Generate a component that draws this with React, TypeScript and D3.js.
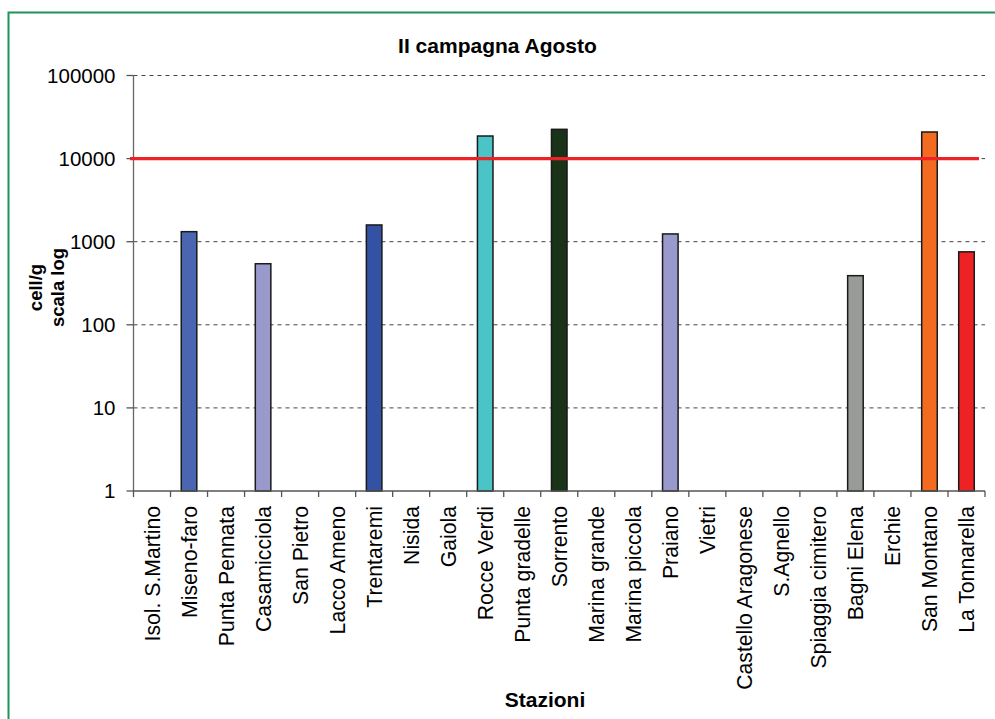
import React from "react";
import * as d3 from "d3";

const categories: string[] = [
  "Isol. S.Martino", "Miseno-faro", "Punta Pennata", "Casamicciola", "San Pietro",
  "Lacco Ameno", "Trentaremi", "Nisida", "Gaiola", "Rocce Verdi", "Punta gradelle",
  "Sorrento", "Marina grande", "Marina piccola", "Praiano", "Vietri",
  "Castello Aragonese", "S.Agnello", "Spiaggia cimitero", "Bagni Elena", "Erchie",
  "San Montano", "La Tonnarella",
];
const values: (number | null)[] = [
  null, 1320, null, 543, null, null, 1590, null, null, 18700, null,
  22500, null, null, 1240, null, null, null, null, 390, null, 20900, 755,
];
const barColors: string[] = [
  "#ffffff", "#4a66b0", "#ffffff", "#9999cc", "#ffffff", "#ffffff", "#3352a3",
  "#ffffff", "#ffffff", "#4bc4c8", "#ffffff", "#1a3318", "#ffffff", "#ffffff",
  "#9999cc", "#ffffff", "#ffffff", "#ffffff", "#ffffff", "#999b99", "#ffffff",
  "#f36b21", "#ee2224",
];
const yTicks: number[] = [1, 10, 100, 1000, 10000, 100000];
const threshold = 10000;

export default function App() {
  const W = 995, H = 719;
  const x0 = 133.5, x1 = 985, yTop = 75.5, yBot = 491;
  const x = d3.scaleBand<string>().domain(categories).range([x0, x1]).padding(0);
  const y = d3.scaleLog().domain([1, 100000]).range([yBot, yTop]);
  const step = x.step();
  const barW = step * 0.42;
  const font = "'Liberation Sans', Arial, sans-serif";

  return (
    <svg width={W} height={H} style={{ position: "absolute", left: 0, top: 0, background: "#fff" }} fontFamily={font}>
      <rect x={0} y={0} width={W} height={H} fill="#fff" />
      <rect x={8.5} y={12.5} width={W + 20} height={H + 20} fill="none" stroke="#1f9458" strokeWidth={2} />
      <text x={497.5} y={53} textAnchor="middle" fontWeight="bold" fontSize={21} fill="#000">II campagna Agosto</text>

      {/* gridlines */}
      {yTicks.filter(t => t !== 1).map(t => (
        <line key={"g" + t} x1={x0} x2={x1} y1={y(t)} y2={y(t)} stroke="#444" strokeWidth={1} strokeDasharray="4,4" />
      ))}

      {/* y axis */}
      <line x1={x0} x2={x0} y1={yTop} y2={yBot} stroke="#666" strokeWidth={1.3} />
      {yTicks.map(t => (
        <g key={"t" + t}>
          <line x1={x0 - 7} x2={x0} y1={y(t)} y2={y(t)} stroke="#555" strokeWidth={1.3} />
          <text x={x0 - 18} y={y(t)} dy="0.36em" textAnchor="end" fontSize={20.5} fill="#000">{String(t)}</text>
        </g>
      ))}

      {/* bars */}
      {categories.map((c, i) => {
        const v = values[i];
        if (v == null) return null;
        const cx = (x(c) as number) + step / 2;
        return (
          <rect key={"b" + c} x={cx - barW / 2} y={y(v)} width={barW} height={yBot - y(v)}
            fill={barColors[i]} stroke="#1a1a1a" strokeWidth={1.5} />
        );
      })}

      {/* x axis */}
      <line x1={x0} x2={x1} y1={yBot} y2={yBot} stroke="#555" strokeWidth={1.3} />
      {d3.range(categories.length + 1).map(i => (
        <line key={"xt" + i} x1={x0 + i * step} x2={x0 + i * step} y1={yBot} y2={yBot + 6} stroke="#555" strokeWidth={1.3} />
      ))}
      {categories.map(c => {
        const cx = (x(c) as number) + step / 2;
        return (
          <text key={"l" + c} transform={`translate(${cx},506) rotate(-90)`} dy="0.36em" textAnchor="end" fontSize={21.2} fill="#000">{c}</text>
        );
      })}

      {/* threshold line */}
      <line x1={130} x2={979} y1={y(threshold)} y2={y(threshold)} stroke="#ee2226" strokeWidth={3.3} />

      {/* axis titles */}
      <text transform="translate(35.5,287.5) rotate(-90)" dy="0.36em" textAnchor="middle" fontWeight="bold" fontSize={18.5} fill="#000">cell/g</text>
      <text transform="translate(57,287.5) rotate(-90)" dy="0.36em" textAnchor="middle" fontWeight="bold" fontSize={18.5} fill="#000">scala log</text>
      <text x={545} y={706.5} textAnchor="middle" fontWeight="bold" fontSize={21} fill="#000">Stazioni</text>
    </svg>
  );
}
